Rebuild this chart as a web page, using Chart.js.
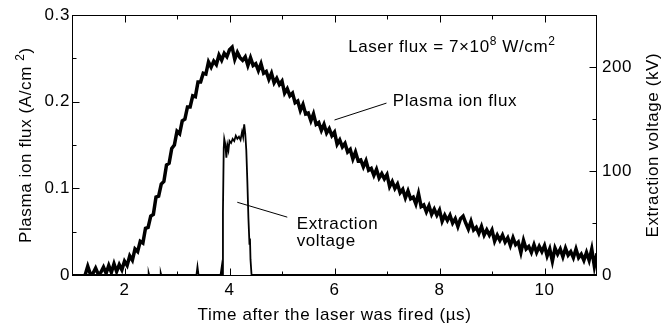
<!DOCTYPE html>
<html><head><meta charset="utf-8">
<style>html,body{margin:0;padding:0;background:#fff;}#wrap{width:669px;height:328px;position:relative;}</style>
<script src="https://cdn.jsdelivr.net/npm/chart.js"></script>
</head><body><div id="wrap"><canvas id="c"></canvas></div>
<script>
// ---- data ----
const fluxTimes = [
 1.25,1.30,1.35,1.40,1.45,1.50,1.55,1.60,1.65,1.70,1.75,1.80,1.85,1.90,1.95,2.00,2.05,2.10,2.15,
 2.20,2.25,2.30,2.35,2.40,2.45,2.50,2.55,2.60,2.65,2.70,2.75,2.80,2.85,2.90,2.95,
 3.00,3.05,3.10,3.15,3.20,3.25,3.30,3.35,3.40,3.45,3.50,3.55,3.60,3.65,3.70,3.75,3.80,3.85,3.90,3.95,
 4.00,4.05,4.10,4.15,4.20,4.25,4.30,4.35,4.40,4.45,4.50,4.55,4.60,4.65,4.70,4.75,4.80,4.85,4.90,4.95,
 5.00,5.05,5.10,5.15,5.20,5.25,5.30,5.35,5.40,5.45,5.50,5.55,5.60,5.65,5.70,5.75,5.80,5.85,5.90,5.95,
 6.00,6.05,6.10,6.15,6.20,6.25,6.30,6.35,6.40,6.45,6.50,6.55,6.60,6.65,6.70,6.75,6.80,6.85,6.90,6.95,
 7.00,7.05,7.10,7.15,7.20,7.25,7.30,7.35,7.40,7.45,7.50,7.55,7.60,7.65,7.70,7.75,7.80,7.85,7.90,7.95,
 8.00,8.05,8.10,8.15,8.20,8.25,8.30,8.35,8.40,8.45,8.50,8.55,8.60,8.65,8.70,8.75,8.80,8.85,8.90,8.95,
 9.00,9.05,9.10,9.15,9.20,9.25,9.30,9.35,9.40,9.45,9.50,9.55,9.60,9.65,9.70,9.75,9.80,9.85,9.90,9.95,
 10.00,10.05,10.10,10.15,10.20,10.25,10.30,10.35,10.40,10.45,10.50,10.55,10.60,10.65,10.70,10.75,10.80,10.85,10.90,10.95,11.00
];
const fluxValues = [
 0.000,0.010,0.001,0.002,0.008,0.001,0.003,0.009,0.002,0.011,0.003,0.013,0.004,0.012,0.006,0.016,0.011,0.022,0.017,
 0.030,0.027,0.039,0.037,0.054,0.055,0.068,0.070,0.090,0.091,0.105,0.108,0.127,0.129,0.146,0.150,
 0.166,0.163,0.178,0.180,0.194,0.194,0.207,0.206,0.223,0.223,0.233,0.232,0.246,0.240,0.247,0.243,0.254,0.248,0.256,0.252,
 0.260,0.263,0.249,0.257,0.251,0.248,0.252,0.242,0.251,0.242,0.244,0.236,0.244,0.233,0.235,0.226,0.233,0.222,0.227,0.220,
 0.224,0.210,0.215,0.207,0.210,0.199,0.201,0.190,0.197,0.186,0.187,0.178,0.186,0.174,0.176,0.167,0.174,0.164,0.169,0.161,
 0.165,0.151,0.156,0.148,0.152,0.142,0.145,0.134,0.142,0.132,0.133,0.125,0.132,0.121,0.123,0.115,0.122,0.112,0.117,0.111,
 0.116,0.102,0.108,0.100,0.105,0.095,0.099,0.089,0.097,0.088,0.090,0.082,0.094,0.079,0.081,0.073,0.080,0.070,0.076,0.069,
 0.075,0.062,0.069,0.063,0.069,0.060,0.065,0.056,0.065,0.068,0.060,0.053,0.062,0.052,0.055,0.048,0.056,0.046,0.052,0.046,
 0.052,0.039,0.046,0.040,0.046,0.038,0.043,0.034,0.043,0.035,0.038,0.026,0.040,0.030,0.033,0.026,0.035,0.026,0.033,0.027,
 0.034,0.022,0.030,0.016,0.031,0.024,0.030,0.021,0.031,0.023,0.027,0.020,0.030,0.020,0.024,0.017,0.026,0.017,0.030,0.010,0.025
];
const voltTimes  = [1.00,2.45,2.46,2.47,2.68,2.69,2.70,3.37,3.39,3.41,3.83,3.85,3.86,3.875,3.89,3.90,3.92,3.94,3.96,3.98,4.00,4.03,4.06,4.09,4.12,4.15,4.18,4.21,4.24,4.26,4.28,4.30,4.32,4.34,4.36,4.38,4.39,4.40,4.42,11.00];
const voltValues = [0,0,2,0,0,2,0,0,8,0,0,7,0,60,122,131,126,113,125,120,129,127,131,129,134,131,133,130,138,133,145,136,120,90,55,30,35,15,0,0];

const xMajorTicks = [2,4,6,8,10];
const xTickLabels = ['2','4','6','8','10'];
const xMinorTicks = [3,5,7,9];
const yMajorTicks = [0,0.1,0.2,0.3];
const yTickLabels = ['0','0.1','0.2','0.3'];
const yMinorTicks = [0.05,0.15,0.25];
const y2MajorTicks = [0,100,200];
const y2TickLabels = ['0','100','200'];
const y2MinorTicks = [50,150,250];

const FONT = '"Liberation Sans", Arial, Helvetica, sans-serif';
const FS = 17;
const LS = '0.6px';

function pts(xs, ys){ return xs.map((x,i)=>({x:x, y:ys[i]})); }

function drawRich(ctx, parts, x, y, size){
  let cx = x;
  parts.forEach(([t, sup])=>{
    const fs = sup ? Math.round(size*0.68) : size;
    ctx.font = fs + 'px ' + FONT;
    ctx.fillText(t, cx, sup ? y - size*0.42 : y);
    cx += ctx.measureText(t).width;
  });
  return cx - x;
}
function richWidth(ctx, parts, size){
  let w = 0;
  parts.forEach(([t, sup])=>{
    const fs = sup ? Math.round(size*0.68) : size;
    ctx.font = fs + 'px ' + FONT;
    w += ctx.measureText(t).width;
  });
  return w;
}

const spacingPlugin = {
  id: 'spacing',
  beforeDraw(chart){ if ('letterSpacing' in chart.ctx) chart.ctx.letterSpacing = LS; }
};

const framePlugin = {
  id: 'frame',
  afterDraw(chart){
    const {ctx, chartArea: a, scales} = chart;
    const sx = scales.x, sy = scales.y, sy2 = scales.y2;
    ctx.save();
    if ('letterSpacing' in ctx) ctx.letterSpacing = LS;
    ctx.strokeStyle = '#000';
    ctx.fillStyle = '#000';
    ctx.lineWidth = 1;
    ctx.strokeRect(Math.round(a.left)+0.5, Math.round(a.top)+0.5, Math.round(a.right-a.left)-1, Math.round(a.bottom-a.top));
    const tick = (x1,y1,x2,y2)=>{ ctx.beginPath(); ctx.moveTo(x1,y1); ctx.lineTo(x2,y2); ctx.stroke(); };
    const MJ = 7, MN = 4;
    const bot = Math.round(a.bottom)+0.5, top = Math.round(a.top)+0.5;
    const lft = Math.round(a.left)+0.5, rgt = Math.round(a.right)-0.5;
    xMajorTicks.forEach(v=>{ const px = Math.round(sx.getPixelForValue(v))+0.5; tick(px,bot,px,bot-MJ); tick(px,top,px,top+MJ); });
    xMinorTicks.forEach(v=>{ const px = Math.round(sx.getPixelForValue(v))+0.5; tick(px,bot,px,bot-MN); tick(px,top,px,top+MN); });
    yMajorTicks.forEach(v=>{ const py = Math.round(sy.getPixelForValue(v))+0.5; tick(lft,py,lft+MJ,py); });
    yMinorTicks.forEach(v=>{ const py = Math.round(sy.getPixelForValue(v))+0.5; tick(lft,py,lft+MN,py); });
    y2MajorTicks.forEach(v=>{ const py = Math.round(sy2.getPixelForValue(v))+0.5; tick(rgt,py,rgt-MJ,py); });
    y2MinorTicks.forEach(v=>{ const py = Math.round(sy2.getPixelForValue(v))+0.5; tick(rgt,py,rgt-MN,py); });

    ctx.textBaseline = 'alphabetic';
    ctx.font = FS + 'px ' + FONT;
    ctx.textAlign = 'center';
    ctx.fillText('Time after the laser was fired (\u00b5s)', (a.left+a.right)/2, 320);
    ctx.textAlign = 'left';
    const lParts = [['Plasma ion flux (A/cm ', false], ['2', true], [')', false]];
    ctx.save();
    ctx.translate(31, (a.top+a.bottom)/2);
    ctx.rotate(-Math.PI/2);
    const lw = richWidth(ctx, lParts, FS);
    drawRich(ctx, lParts, -lw/2, 0, FS);
    ctx.restore();
    ctx.save();
    ctx.translate(658, (a.top+a.bottom)/2);
    ctx.rotate(-Math.PI/2);
    ctx.font = FS + 'px ' + FONT;
    ctx.textAlign = 'center';
    ctx.fillText('Extraction voltage (kV)', 0, 0);
    ctx.restore();
    ctx.textAlign = 'left';

    const laser = [['Laser flux = 7\u00d710', false], ['8', true], [' W/cm', false], ['2', true]];
    drawRich(ctx, laser, sx.getPixelForValue(6.26), sy.getPixelForValue(0.2577), FS);
    ctx.font = FS + 'px ' + FONT;
    ctx.fillText('Plasma ion flux', sx.getPixelForValue(7.11), sy.getPixelForValue(0.1947));
    ctx.fillText('Extraction', sx.getPixelForValue(5.28), sy.getPixelForValue(0.0535));
    ctx.fillText('voltage', sx.getPixelForValue(5.28), sy.getPixelForValue(0.0336));
    ctx.lineWidth = 1;
    tick(sx.getPixelForValue(6.99), sy.getPixelForValue(0.1985), sx.getPixelForValue(6.0), sy.getPixelForValue(0.179));
    tick(sx.getPixelForValue(5.10), sy.getPixelForValue(0.0668), sx.getPixelForValue(4.148), sy.getPixelForValue(0.0840));
    ctx.restore();
  }
};

Chart.defaults.font.family = FONT;
Chart.defaults.font.size = FS;
Chart.defaults.color = '#000';

new Chart(document.getElementById('c'), {
  type: 'line',
  data: {
    datasets: [
      { label: 'Plasma ion flux', data: pts(fluxTimes, fluxValues), yAxisID: 'y',
        borderColor: '#000', borderWidth: 3.5, pointRadius: 0, tension: 0, fill: false, borderJoinStyle: 'miter' },
      { label: 'Extraction voltage', data: pts(voltTimes, voltValues), yAxisID: 'y2',
        borderColor: '#000', borderWidth: 1.8, pointRadius: 0, tension: 0, fill: false }
    ]
  },
  options: {
    responsive: true,
    maintainAspectRatio: false,
    animation: false,
    events: [],
    layout: { padding: { top: 13, left: 0, right: 0, bottom: 0 } },
    plugins: { legend: { display: false }, tooltip: { enabled: false } },
    scales: {
      x: {
        type: 'linear', position: 'bottom', min: 1, max: 11,
        grid: { display: false, drawTicks: false }, border: { display: false },
        afterBuildTicks: s => { s.ticks = xMajorTicks.map(v => ({ value: v })); },
        afterFit: s => { s.height = 53; },
        ticks: { autoSkip: false, maxRotation: 0, padding: 5,
                 callback: v => xTickLabels[xMajorTicks.indexOf(v)] }
      },
      y: {
        type: 'linear', position: 'left', min: 0, max: 0.3,
        grid: { display: false, drawTicks: false }, border: { display: false },
        afterBuildTicks: s => { s.ticks = yMajorTicks.map(v => ({ value: v })); },
        afterFit: s => { s.width = 72; },
        ticks: { autoSkip: false, padding: 2,
                 callback: v => yTickLabels[yMajorTicks.indexOf(v)] }
      },
      y2: {
        type: 'linear', position: 'right', min: 0, max: 250,
        grid: { display: false, drawTicks: false }, border: { display: false },
        afterBuildTicks: s => { s.ticks = y2MajorTicks.map(v => ({ value: v })); },
        afterFit: s => { s.width = 72; },
        ticks: { autoSkip: false, padding: 5,
                 callback: v => y2TickLabels[y2MajorTicks.indexOf(v)] }
      }
    }
  },
  plugins: [spacingPlugin, framePlugin]
});
</script>
</body></html>
